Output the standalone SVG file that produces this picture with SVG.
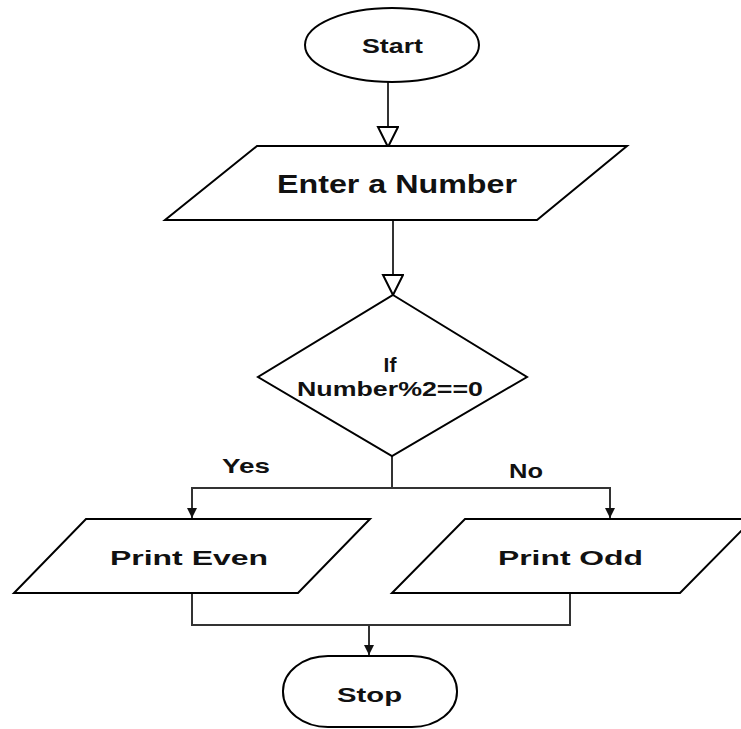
<svg xmlns="http://www.w3.org/2000/svg" width="741" height="729" viewBox="0 0 741 729">
<style>
.shape{fill:#fff;stroke:#000;stroke-width:2}
.conn{fill:none;stroke:#333;stroke-width:2}
.lbl{font-family:"Liberation Sans",Arial,sans-serif;font-weight:bold;fill:#111;font-size:21px}
</style>
<defs>
<marker id="open" markerUnits="userSpaceOnUse" markerWidth="24" markerHeight="24" viewBox="0 0 24 24" refX="21" refY="11" orient="auto">
<path d="M1,1 L21,11 L1,21 Z" fill="#fff" stroke="#000" stroke-width="2"/>
</marker>
<marker id="fill" markerUnits="userSpaceOnUse" markerWidth="12" markerHeight="12" viewBox="0 0 12 12" refX="10" refY="5" orient="auto">
<path d="M0,0 L10,5 L0,10 Z" fill="#111"/>
</marker>
</defs>
<rect width="741" height="729" fill="#fff"/>
<g id="connectors">
<path class="conn" d="M388,82 V147" marker-end="url(#open)"/>
<path class="conn" d="M393,220 V295" marker-end="url(#open)"/>
<path class="conn" d="M392,456 V488 H192 V518" marker-end="url(#fill)"/>
<path class="conn" d="M392,488 H610 V518" marker-end="url(#fill)"/>
<path class="conn" d="M192,593 V625 H570 V593"/>
<path class="conn" d="M369,625 V655" marker-end="url(#fill)"/>
<text class="lbl" x="222" y="473" textLength="48" lengthAdjust="spacingAndGlyphs">Yes</text>
<text class="lbl" x="509" y="478" textLength="34" lengthAdjust="spacingAndGlyphs">No</text>
</g>
<g id="start">
<ellipse class="shape" cx="392" cy="45" rx="87" ry="37"/>
<text class="lbl" x="362" y="53" font-size="20" style="font-size:20px" textLength="61" lengthAdjust="spacingAndGlyphs">Start</text>
</g>
<g id="enter">
<polygon class="shape" points="257,146 627,146 537,220 165,220"/>
<text class="lbl" x="277" y="193" style="font-size:25px" textLength="240" lengthAdjust="spacingAndGlyphs">Enter a Number</text>
</g>
<g id="decision">
<polygon class="shape" points="393,295 527,377 392,456 258,377"/>
<text class="lbl" x="390" y="372" text-anchor="middle">If</text>
<text class="lbl" x="297" y="396" textLength="186" lengthAdjust="spacingAndGlyphs">Number%2==0</text>
</g>
<g id="even">
<polygon class="shape" points="86,519 370,519 298,593 14,593"/>
<text class="lbl" x="110" y="565" textLength="158" lengthAdjust="spacingAndGlyphs">Print Even</text>
</g>
<g id="odd">
<polygon class="shape" points="465,519 753,519 680,593 392,593"/>
<text class="lbl" x="498" y="565" textLength="145" lengthAdjust="spacingAndGlyphs">Print Odd</text>
</g>
<g id="stop">
<rect class="shape" x="283" y="656" width="174" height="71" rx="45" ry="35"/>
<text class="lbl" x="337" y="702" textLength="65" lengthAdjust="spacingAndGlyphs">Stop</text>
</g>
</svg>
